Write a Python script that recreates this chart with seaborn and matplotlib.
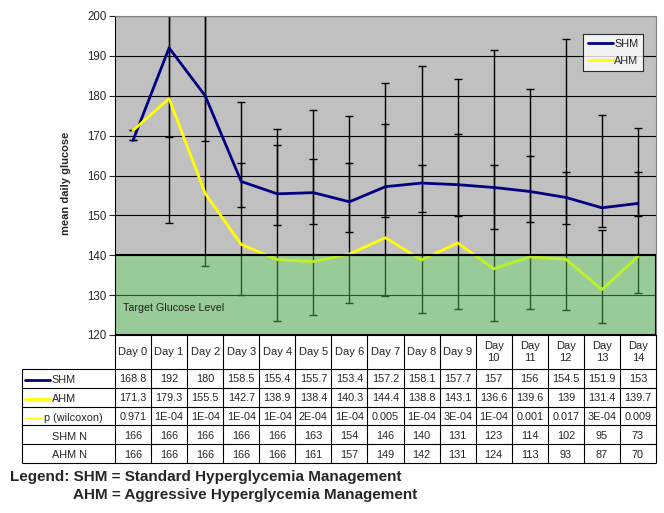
import numpy as np
import pandas as pd
import matplotlib
matplotlib.use("Agg")
import matplotlib.pyplot as plt
import seaborn as sns


DAYS = [f"Day {i}" for i in range(15)]

SHM_MEAN = [168.8, 192, 180, 158.5, 155.4, 155.7, 153.4, 157.2, 158.1, 157.7, 157, 156, 154.5, 151.9, 153]
AHM_MEAN = [171.3, 179.3, 155.5, 142.7, 138.9, 138.4, 140.3, 144.4, 138.8, 143.1, 136.6, 139.6, 139, 131.4, 139.7]
P_WILCOXON = ["0.971", "1E-04", "1E-04", "1E-04", "1E-04", "2E-04", "1E-04", "0.005",
              "1E-04", "3E-04", "1E-04", "0.001", "0.017", "3E-04", "0.009"]
SHM_N = [166, 166, 166, 166, 166, 163, 154, 146, 140, 131, 123, 114, 102, 95, 73]
AHM_N = [166, 166, 166, 166, 166, 161, 157, 149, 142, 131, 124, 113, 93, 87, 70]

# error bar ends (tops of day 1 and 2 are cut off at 200)
SHM_LOW = [168.8, 169.7, 168.6, 152.1, 147.5, 147.9, 145.8, 149.5, 150.8, 149.8, 146.7, 148.4, 147.9, 147.2, 149.8]
SHM_HIGH = [168.8, 214, 206, 178.4, 171.6, 176.4, 174.9, 183.1, 187.4, 184.1, 191.4, 181.8, 194.2, 175.1, 171.9]
AHM_LOW = [171.3, 148.2, 137.4, 130.0, 123.6, 125.1, 128.1, 129.8, 125.6, 126.4, 123.6, 126.6, 126.3, 123.1, 130.6]
AHM_HIGH = [171.3, 210, 204, 163.1, 167.6, 164.1, 163.1, 172.9, 162.6, 170.3, 162.6, 164.8, 161.0, 146.4, 161.0]

TARGET_RANGE = (120, 140)

SHM_COLOR = "#000080"
AHM_COLOR = "#FFFF00"
PLOT_BG = "#C0C0C0"
BAND_COLOR = (0.37, 0.87, 0.37, 0.4)

sns.set_style("white")
plt.rcParams["font.family"] = ["Liberation Sans", "DejaVu Sans"]

W, H = 664, 513
fig = plt.figure(figsize=(W / 100, H / 100), dpi=100)
ax = fig.add_axes([115 / W, 1 - 335 / H, 541 / W, 319 / H])

day_idx = np.arange(len(DAYS))
df = pd.DataFrame({
    "day": np.concatenate([day_idx, day_idx]),
    "glucose": SHM_MEAN + AHM_MEAN,
    "group": ["SHM"] * len(DAYS) + ["AHM"] * len(DAYS),
})

# error bars: drawn around the middle of each range so both ends get a cap
for lo, hi in [(SHM_LOW, SHM_HIGH), (AHM_LOW, AHM_HIGH)]:
    lo = np.array(lo)
    hi = np.array(hi)
    ax.errorbar(day_idx, (lo + hi) / 2, yerr=(hi - lo) / 2, fmt="none",
                ecolor="black", elinewidth=1, capsize=3, capthick=1, zorder=2)

sns.lineplot(data=df, x="day", y="glucose", hue="group", hue_order=["SHM", "AHM"],
             palette={"SHM": SHM_COLOR, "AHM": AHM_COLOR}, linewidth=2,
             errorbar=None, ax=ax, zorder=2.5)

ax.axhspan(*TARGET_RANGE, facecolor=BAND_COLOR, edgecolor="black", lw=1.5, zorder=3)
ax.text(-0.28, 126.8, "Target Glucose Level", fontsize=7.7, color="#222222",
        ha="left", va="center", zorder=4)

ax.set_facecolor(PLOT_BG)
ax.set_xlim(-0.5, len(DAYS) - 0.5)
ax.set_ylim(120, 200)
ax.set_yticks(range(120, 201, 10))
ax.set_xticks([])
ax.set_xlabel("")
ax.yaxis.grid(True, color="black", lw=0.8)
ax.set_axisbelow(True)
ax.tick_params(axis="y", direction="out", length=4, width=0.8, pad=2,
               labelsize=8.3, left=True)
for side in ["top", "right"]:
    ax.spines[side].set_color("#808080")
for side in ["left", "bottom"]:
    ax.spines[side].set_color("black")

ax.set_ylabel("mean daily glucose", fontsize=8, fontweight="bold")
ax.yaxis.set_label_coords(-0.081, 0.476)

handles, labels = ax.get_legend_handles_labels()
leg = ax.legend(handles, labels, loc="upper right", bbox_to_anchor=(0.976, 0.943),
                borderaxespad=0, fontsize=7.8, frameon=True, fancybox=False,
                handlelength=2.3, handletextpad=0.1, borderpad=0.45,
                labelspacing=0.62)
leg.get_frame().set_edgecolor("black")
leg.get_frame().set_linewidth(0.8)
leg.set_zorder(5)

# data table under the chart, columns lined up with the days
COL_W = 541 / len(DAYS)


def px_to_col(px):
    return -0.5 + (px - 115) / COL_W


HEADER_H = 1.81
n_rows = 5
label_left = px_to_col(22)
tax = fig.add_axes([22 / W, 1 - 463 / H, (656 - 22) / W, 128 / H])
tax.set_xlim(label_left, len(DAYS) - 0.5)
tax.set_ylim(HEADER_H + n_rows, 0)
tax.axis("off")

tax.vlines(day_idx - 0.5, 0, HEADER_H + n_rows, color="black", lw=0.8, clip_on=False)
tax.vlines(len(DAYS) - 0.5, 0, HEADER_H + n_rows, color="black", lw=0.8, clip_on=False)
tax.vlines(label_left, HEADER_H, HEADER_H + n_rows, color="black", lw=0.8, clip_on=False)
tax.hlines(HEADER_H + np.arange(n_rows + 1), label_left, len(DAYS) - 0.5,
           color="black", lw=0.8, clip_on=False)

for j, day in enumerate(DAYS):
    label = day.replace(" ", "\n") if len(day) > 5 else day
    tax.text(j, HEADER_H / 2, label, ha="center", va="center", fontsize=8,
             linespacing=1.3)

rows = [
    [f"{v:g}" for v in SHM_MEAN],
    [f"{v:g}" for v in AHM_MEAN],
    P_WILCOXON,
    [str(v) for v in SHM_N],
    [str(v) for v in AHM_N],
]
for r, values in enumerate(rows):
    y = HEADER_H + r + 0.55
    for j, txt in enumerate(values):
        tax.text(j, y, txt, ha="center", va="center", fontsize=7.8)

row_labels = [
    ("SHM", SHM_COLOR, 2, 50, 51),
    ("AHM", AHM_COLOR, 2, 50, 52),
    ("p (wilcoxon)", AHM_COLOR, 0.8, 43, 44),
    ("SHM N", None, 0, 0, 52),
    ("AHM N", None, 0, 0, 52),
]
for r, (name, color, lw, line_end, text_x) in enumerate(row_labels):
    y = HEADER_H + r + 0.6
    if color is not None:
        tax.plot([px_to_col(25), px_to_col(line_end)], [y, y], color=color,
                 lw=lw, clip_on=False)
    tax.text(px_to_col(text_x), y, name, ha="left", va="center", fontsize=7.8)

fig.text(10 / W, 1 - 477 / H, "Legend: SHM = Standard Hyperglycemia Management",
         fontsize=11, fontweight="bold", ha="left", va="center")
fig.text(73 / W, 1 - 495 / H, "AHM = Aggressive Hyperglycemia Management",
         fontsize=11, fontweight="bold", ha="left", va="center")

fig.savefig("out.png", dpi=100)
plt.close(fig)
